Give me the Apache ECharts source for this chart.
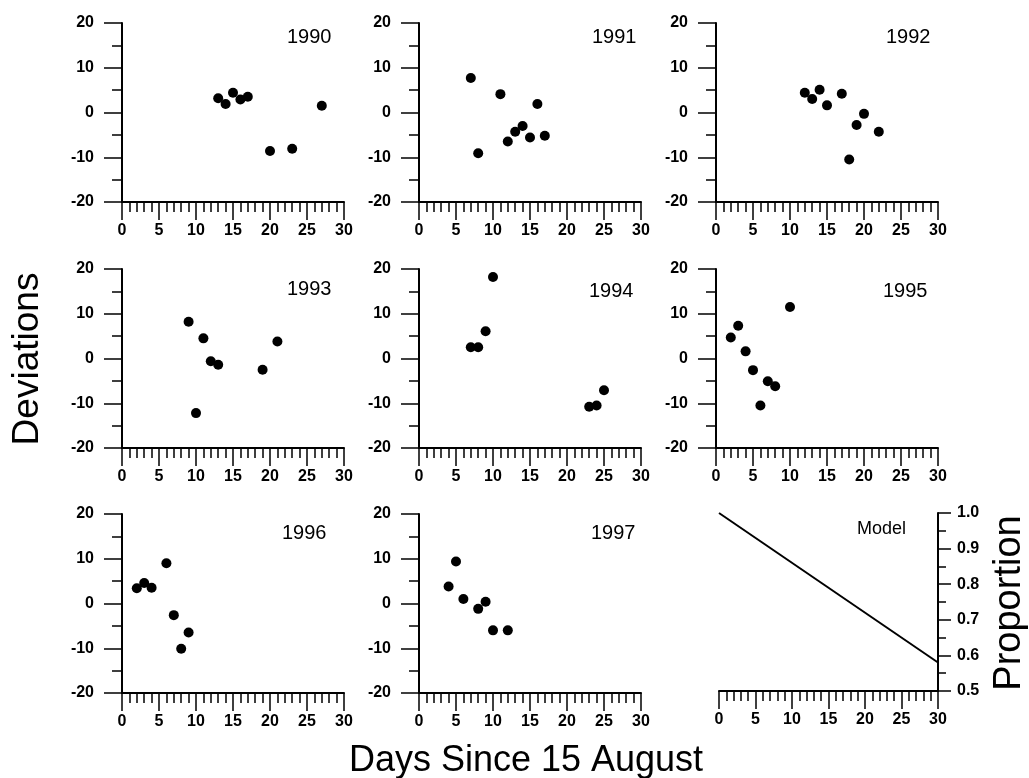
<!DOCTYPE html>
<html>
<head>
<meta charset="utf-8">
<script src="https://cdn.jsdelivr.net/npm/echarts@6/dist/echarts.min.js"></script>
<style>
  html, body { margin: 0; padding: 0; background: #fff; }
  #main { width: 1029px; height: 778px; }
</style>
</head>
<body>
<div id="main"></div>
<script>
// values
var years = ['1990', '1991', '1992', '1993', '1994', '1995', '1996', '1997'];
var days1990 = [13, 14, 15, 16, 17, 20, 23, 27];
var dev1990 = [3.2, 1.9, 4.4, 2.9, 3.5, -8.6, -8.1, 1.5];
var days1991 = [7, 8, 9, 11, 12, 13, 14, 15, 16, 17];
var dev1991 = [7.7, -9.1, 20.4, 4.1, -6.5, -4.3, -3.0, -5.6, 1.9, -5.2];
var days1992 = [12, 13, 14, 15, 17, 18, 19, 20, 22];
var dev1992 = [4.4, 3.0, 5.1, 1.6, 4.2, -10.5, -2.8, -0.3, -4.3];
var days1993 = [9, 10, 11, 12, 13, 19, 21];
var dev1993 = [8.2, -12.2, 4.5, -0.6, -1.4, -2.5, 3.8];
var days1994 = [7, 8, 9, 10, 23, 24, 25];
var dev1994 = [2.5, 2.5, 6.1, 18.2, -10.8, -10.5, -7.1];
var days1995 = [2, 3, 4, 5, 6, 7, 8, 10];
var dev1995 = [4.7, 7.3, 1.6, -2.6, -10.5, -5.1, -6.2, 11.5];
var days1996 = [2, 3, 4, 6, 7, 8, 9];
var dev1996 = [3.4, 4.6, 3.5, 9.0, -2.6, -10.1, -6.5];
var days1997 = [4, 5, 6, 8, 9, 10, 12];
var dev1997 = [3.8, 9.4, 1.0, -1.2, 0.4, -6.0, -6.0];
var modelDays = [0, 30];
var modelProp = [1.0, 0.58];

var allDays = [days1990, days1991, days1992, days1993, days1994, days1995, days1996, days1997];
var allDev = [dev1990, dev1991, dev1992, dev1993, dev1994, dev1995, dev1996, dev1997];

var FONT = '"Liberation Sans", Arial, sans-serif';
var colLeft = [122, 419, 716];
var rowTop = [23, 269, 514];
var panelW = 222, panelH = 179;
// where each year label sits (left, top)
var labelPos = [[287, 27], [592, 27], [886, 27], [287, 279], [589, 281], [883, 281], [282, 523], [591, 523]];

var dom = document.getElementById('main');
var myChart = echarts.init(dom);

var grids = [], xAxes = [], yAxes = [], series = [], titles = [];

function xAxisDef(i) {
    return {
        gridIndex: i, type: 'value', min: 0, max: 30, interval: 5,
        axisLine: { onZero: false, lineStyle: { color: '#000', width: 2 } },
        axisTick: { length: 18, lineStyle: { color: '#000', width: 1.5 } },
        minorTick: { show: true, splitNumber: 5, length: 10, lineStyle: { color: '#000', width: 1.5 } },
        splitLine: { show: false },
        axisLabel: { color: '#000', fontSize: 16, fontWeight: 'bold', fontFamily: FONT, margin: 21 }
    };
}

for (var i = 0; i < 8; i++) {
    var r = Math.floor(i / 3), c = i % 3;
    grids.push({ left: colLeft[c], top: rowTop[r], width: panelW, height: panelH });
    xAxes.push(xAxisDef(i));
    yAxes.push({
        gridIndex: i, type: 'value', min: -20, max: 20, interval: 10,
        axisLine: { onZero: false, lineStyle: { color: '#000', width: 2 } },
        axisTick: { length: 18, lineStyle: { color: '#000', width: 1.5 } },
        minorTick: { show: true, splitNumber: 2, length: 10, lineStyle: { color: '#000', width: 1.5 } },
        splitLine: { show: false },
        axisLabel: { color: '#000', fontSize: 16, fontWeight: 'bold', fontFamily: FONT, margin: 28 }
    });
    var pts = allDays[i].map(function (d, k) { return [d, allDev[i][k]]; });
    series.push({
        type: 'scatter', xAxisIndex: i, yAxisIndex: i, data: pts,
        symbol: 'circle', symbolSize: 10, itemStyle: { color: '#000', opacity: 1 }
    });
    titles.push({
        text: years[i], left: labelPos[i][0], top: labelPos[i][1], padding: 0,
        textStyle: { color: '#000', fontSize: 20, fontWeight: 'normal', fontFamily: FONT }
    });
}

// model panel
grids.push({ left: 719, top: 513, width: 219, height: 178 });
xAxes.push(xAxisDef(8));
yAxes.push({
    gridIndex: 8, type: 'value', position: 'right', min: 0.5, max: 1.0, interval: 0.1,
    axisLine: { onZero: false, lineStyle: { color: '#000', width: 2 } },
    axisTick: { length: 13, lineStyle: { color: '#000', width: 1.5 } },
    minorTick: { show: true, splitNumber: 2, length: 8, lineStyle: { color: '#000', width: 1.5 } },
    splitLine: { show: false },
    axisLabel: {
        color: '#000', fontSize: 16, fontWeight: 'bold', fontFamily: FONT, margin: 19,
        formatter: function (v) { return v.toFixed(1); }
    }
});
series.push({
    type: 'line', xAxisIndex: 8, yAxisIndex: 8,
    data: modelDays.map(function (d, k) { return [d, modelProp[k]]; }),
    symbol: 'none', lineStyle: { color: '#000', width: 2 }
});
titles.push({
    text: 'Model', left: 857, top: 520, padding: 0,
    textStyle: { color: '#000', fontSize: 18, fontWeight: 'normal', fontFamily: FONT }
});

option = {
    animation: false,
    backgroundColor: '#fff',
    title: titles,
    grid: grids,
    xAxis: xAxes,
    yAxis: yAxes,
    series: series,
    graphic: [
        { type: 'text', x: 28, y: 359, rotation: Math.PI / 2,
          style: { text: 'Deviations', font: '37px ' + FONT, fill: '#000', align: 'center', verticalAlign: 'middle' } },
        { type: 'text', x: 526, y: 761,
          style: { text: 'Days Since 15 August', font: '36px ' + FONT, fill: '#000', align: 'center', verticalAlign: 'middle' } },
        { type: 'text', x: 1010, y: 603, rotation: Math.PI / 2,
          style: { text: 'Proportion', font: '38px ' + FONT, fill: '#000', align: 'center', verticalAlign: 'middle' } }
    ]
};

myChart.setOption(option, true);
</script>
</body>
</html>
